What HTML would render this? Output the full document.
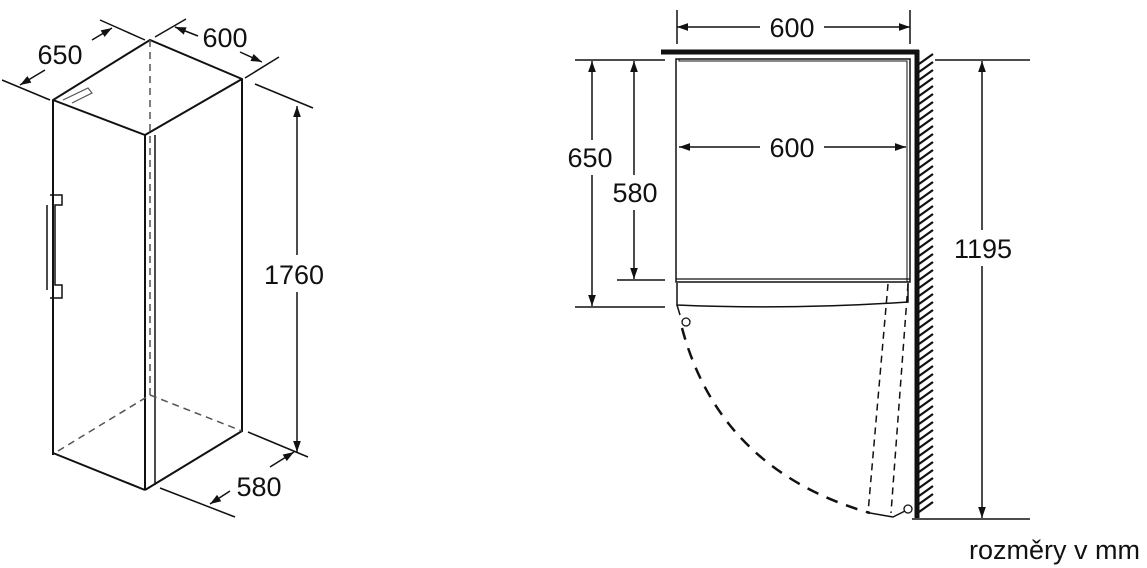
<!DOCTYPE html>
<html><head><meta charset="utf-8"><style>
html,body{margin:0;padding:0;background:#fff;width:1147px;height:568px;overflow:hidden}
svg{display:block}
text{font-family:"Liberation Sans",sans-serif;fill:#111}
</style></head><body>
<svg width="1147" height="568" viewBox="0 0 1147 568" xmlns="http://www.w3.org/2000/svg">
<defs>
<marker id="a" viewBox="0 0 10 10" refX="10" refY="5" markerWidth="11" markerHeight="11" orient="auto-start-reverse" markerUnits="userSpaceOnUse">
<path d="M0,1.5 L10,5 L0,8.5 z" fill="#111"/></marker>
</defs>
<g stroke="#111" fill="none" stroke-width="2">
<!-- left fridge -->
<polyline points="53,455 53,100 150,40 242,79 242,432"/>
<line x1="53" y1="100" x2="145" y2="135"/>
<line x1="145" y1="135" x2="242" y2="79"/>
<line x1="145" y1="135" x2="145" y2="490"/>
<line x1="155" y1="135" x2="155" y2="485" stroke-width="1.5"/>
<line x1="53" y1="453" x2="145" y2="490"/>
<line x1="145" y1="490" x2="242" y2="431"/>
<g stroke="#555" stroke-dasharray="7,5" stroke-width="1.5">
<line x1="150" y1="40" x2="150" y2="395"/>
<line x1="58" y1="451" x2="150" y2="395"/>
<line x1="150" y1="395" x2="242" y2="431"/>
</g>
<path d="M63,100 L88,88 L92,93 L72,103" stroke-width="1.2" stroke="#555"/>
<path d="M50,195 L62,195 L62,205 L55,205 L55,285 L62,285 L62,298 L50,298" stroke-width="1.5"/>
<line x1="47" y1="205" x2="47" y2="290" stroke-width="1.5"/>
<!-- dims left -->
<line x1="2" y1="80" x2="50" y2="100" stroke-width="1.5"/>
<line x1="100" y1="20" x2="145" y2="40" stroke-width="1.5"/>
<line x1="45" y1="70" x2="20" y2="85" stroke-width="1.5" marker-end="url(#a)"/>
<line x1="92" y1="40" x2="112" y2="28" stroke-width="1.5" marker-end="url(#a)"/>
<line x1="155" y1="37" x2="186" y2="19" stroke-width="1.5"/>
<line x1="245" y1="78" x2="279" y2="57" stroke-width="1.5"/>
<line x1="198" y1="36" x2="175" y2="27" stroke-width="1.5" marker-end="url(#a)"/>
<line x1="240" y1="52" x2="262" y2="62" stroke-width="1.5" marker-end="url(#a)"/>
<line x1="255" y1="84" x2="313" y2="108" stroke-width="1.5"/>
<line x1="248" y1="432" x2="308" y2="457" stroke-width="1.5"/>
<line x1="297" y1="255" x2="297" y2="106" stroke-width="1.5" marker-end="url(#a)"/>
<line x1="297" y1="292" x2="297" y2="452" stroke-width="1.5" marker-end="url(#a)"/>
<line x1="160" y1="488" x2="235" y2="517" stroke-width="1.5"/>
<line x1="230" y1="491" x2="210" y2="504" stroke-width="1.5" marker-end="url(#a)"/>
<line x1="270" y1="467" x2="294" y2="452" stroke-width="1.5" marker-end="url(#a)"/>
<!-- right plan -->
<line x1="661" y1="52" x2="919" y2="52" stroke-width="5"/>
<line x1="917" y1="50" x2="917" y2="518" stroke-width="5"/>
<path stroke-width="2.2" d="M919,64 l14,-10 M919,72 l14,-10 M919,80 l14,-10 M919,88 l14,-10 M919,96 l14,-10 M919,104 l14,-10 M919,112 l14,-10 M919,120 l14,-10 M919,128 l14,-10 M919,136 l14,-10 M919,144 l14,-10 M919,152 l14,-10 M919,160 l14,-10 M919,168 l14,-10 M919,176 l14,-10 M919,184 l14,-10 M919,192 l14,-10 M919,200 l14,-10 M919,208 l14,-10 M919,216 l14,-10 M919,224 l14,-10 M919,232 l14,-10 M919,240 l14,-10 M919,248 l14,-10 M919,256 l14,-10 M919,264 l14,-10 M919,272 l14,-10 M919,280 l14,-10 M919,288 l14,-10 M919,296 l14,-10 M919,304 l14,-10 M919,312 l14,-10 M919,320 l14,-10 M919,328 l14,-10 M919,336 l14,-10 M919,344 l14,-10 M919,352 l14,-10 M919,360 l14,-10 M919,368 l14,-10 M919,376 l14,-10 M919,384 l14,-10 M919,392 l14,-10 M919,400 l14,-10 M919,408 l14,-10 M919,416 l14,-10 M919,424 l14,-10 M919,432 l14,-10 M919,440 l14,-10 M919,448 l14,-10 M919,456 l14,-10 M919,464 l14,-10 M919,472 l14,-10 M919,480 l14,-10 M919,488 l14,-10 M919,496 l14,-10 M919,504 l14,-10 M919,512 l14,-10"/>
<rect x="676" y="59" width="234" height="223" stroke-width="1.5"/>
<polyline points="679,59 679,61 907,61 907,282" stroke-width="1"/>
<line x1="676" y1="279" x2="910" y2="279" stroke-width="1.2"/>
<path d="M677,283 L677,305 Q790,310 908,302 L908,283" stroke-width="1.5"/>
<path d="M677,305 L680,315" stroke-width="1.5"/>
<circle cx="686" cy="322" r="4" stroke-width="1.3"/>
<circle cx="908" cy="509" r="4" stroke-width="1.3"/>
<path d="M682,328 Q720,470 870,513" stroke-width="2.5" stroke-dasharray="12,9"/>
<path d="M870,513 L893,517 L905,511" stroke-width="1.5"/>
<g stroke-dasharray="7,5" stroke-width="1.5">
<line x1="888" y1="284" x2="868" y2="513"/>
<line x1="908" y1="284" x2="891" y2="513"/>
</g>
<!-- dims right -->
<line x1="677" y1="10" x2="677" y2="44" stroke-width="1.5"/>
<line x1="910" y1="10" x2="910" y2="44" stroke-width="1.5"/>
<line x1="760" y1="27" x2="677" y2="27" stroke-width="1.5" marker-end="url(#a)"/>
<line x1="824" y1="27" x2="910" y2="27" stroke-width="1.5" marker-end="url(#a)"/>
<line x1="760" y1="147" x2="679" y2="147" stroke-width="1.5" marker-end="url(#a)"/>
<line x1="824" y1="147" x2="906" y2="147" stroke-width="1.5" marker-end="url(#a)"/>
<line x1="575" y1="60" x2="665" y2="60" stroke-width="1.5"/>
<line x1="575" y1="307" x2="665" y2="307" stroke-width="1.5"/>
<line x1="617" y1="280" x2="665" y2="280" stroke-width="1.5"/>
<line x1="592" y1="140" x2="592" y2="61" stroke-width="1.5" marker-end="url(#a)"/>
<line x1="592" y1="175" x2="592" y2="306" stroke-width="1.5" marker-end="url(#a)"/>
<line x1="634" y1="175" x2="634" y2="61" stroke-width="1.5" marker-end="url(#a)"/>
<line x1="634" y1="210" x2="634" y2="279" stroke-width="1.5" marker-end="url(#a)"/>
<line x1="935" y1="60" x2="1030" y2="60" stroke-width="1.5"/>
<line x1="912" y1="519" x2="1030" y2="519" stroke-width="1.5"/>
<line x1="982" y1="230" x2="982" y2="61" stroke-width="1.5" marker-end="url(#a)"/>
<line x1="982" y1="266" x2="982" y2="518" stroke-width="1.5" marker-end="url(#a)"/>
</g>
<g font-size="27">
<text x="60" y="64" text-anchor="middle">650</text>
<text x="225" y="47" text-anchor="middle">600</text>
<text x="294" y="284" text-anchor="middle">1760</text>
<text x="259" y="496" text-anchor="middle">580</text>
<text x="792" y="37" text-anchor="middle">600</text>
<text x="792" y="157" text-anchor="middle">600</text>
<text x="590" y="167" text-anchor="middle">650</text>
<text x="635" y="202" text-anchor="middle">580</text>
<text x="983" y="258" text-anchor="middle">1195</text>
</g>
<text x="1140" y="559" text-anchor="end" font-size="27">rozměry v mm</text>
</svg>
</body></html>
